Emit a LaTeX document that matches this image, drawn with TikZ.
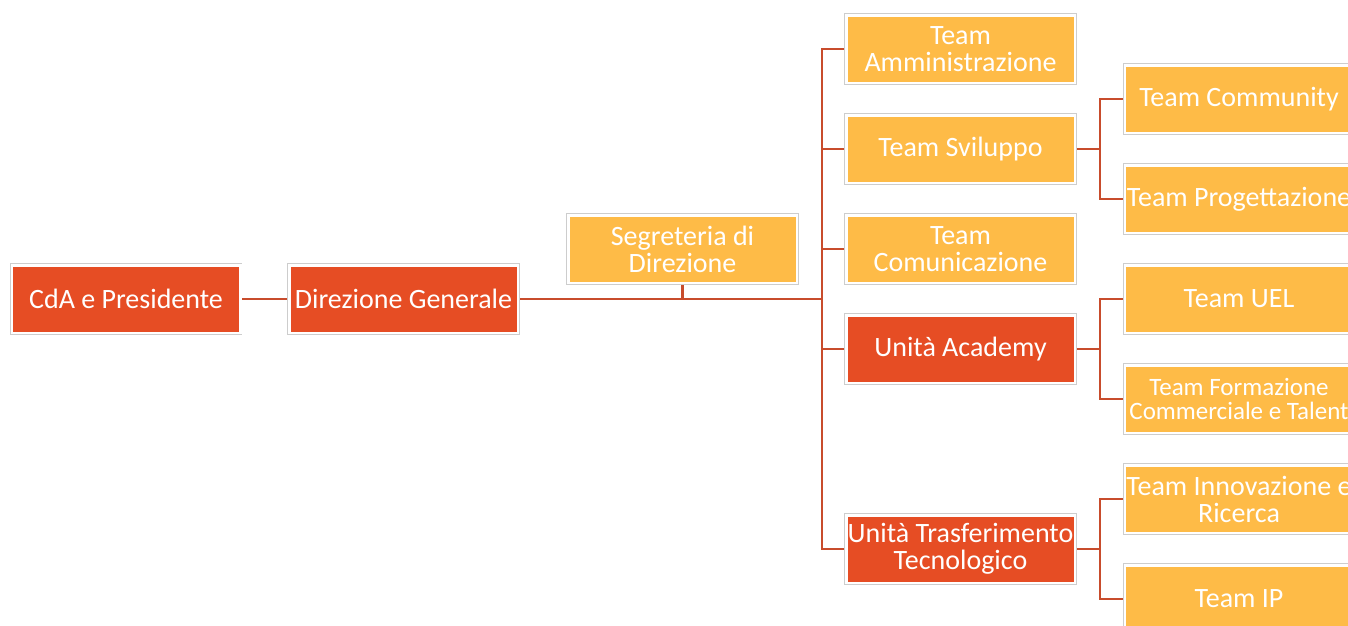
\documentclass[tikz,border=0pt]{standalone}
\usepackage{fontspec}
\setmainfont{Carlito}
\usetikzlibrary{backgrounds}
\definecolor{redbox}{RGB}{230,77,36}
\definecolor{yelbox}{RGB}{254,187,71}
\definecolor{conn}{RGB}{200,76,44}
\definecolor{frame}{RGB}{205,205,205}
\tikzset{
  box/.style={rectangle, minimum width=228.5pt, minimum height=67.5pt, inner sep=0pt,
    draw=white, line width=2.5pt, text=white, align=center,
    font=\fontsize{28}{27}\selectfont,
    preaction={draw=frame, line width=4pt}},
  redb/.style={box, fill=redbox},
  yelb/.style={box, fill=yelbox},
  link/.style={draw=conn, line width=2.4pt},
}
\begin{document}
\begin{tikzpicture}[x=1pt,y=-1pt]
\clip (0,0) rectangle (1348,625);
% level 0/1
\node[redb] (cda) at (126,299) {CdA e Presidente};
\node[redb] (dg) at (403.5,299) {Direzione Generale};
\node[yelb] (seg) at (682.5,249) {Segreteria di\\Direzione};
% column 1
\node[yelb] (amm) at (960.5,49) {Team\\Amministrazione};
\node[yelb] (svi) at (960.5,149) {Team Sviluppo};
\node[yelb] (com) at (960.5,249) {Team\\Comunicazione};
\node[redb] (aca) at (960.5,349) {Unità Academy};
\node[redb] (utt) at (960.5,549) {Unità Trasferimento\\Tecnologico};
% column 2
\node[yelb] (cmy) at (1239,99) {Team Community};
\node[yelb] (prg) at (1239,199) {Team Progettazione};
\node[yelb] (uel) at (1239,299) {Team UEL};
\node[yelb, font=\fontsize{25}{24.5}\selectfont] (frm) at (1239,399) {Team Formazione\\Commerciale e Talent};
\node[yelb] (inn) at (1239,499) {Team Innovazione e\\Ricerca};
\node[yelb] (ip) at (1239,599) {Team IP};
% connector coordinates
\coordinate (tr) at (822,299);
\coordinate (b1) at (1100,149);
\coordinate (b2) at (1100,349);
\coordinate (b3) at (1100,549);
\begin{scope}[on background layer]
\fill[white] (0,0) rectangle (1348,625);
\draw[link] (cda.east) -- (dg.west);
\draw[link] (dg.east) -- (tr);
\draw[link] (seg.south) -- (seg.south |- tr);
\draw[link] (amm.west) -| (tr |- utt.west) -- (utt.west);
\draw[link] (svi.west) -- (svi.west -| tr);
\draw[link] (com.west) -- (com.west -| tr);
\draw[link] (aca.west) -- (aca.west -| tr);
\draw[link] (svi.east) -- (b1);
\draw[link] (cmy.west) -| (b1 |- prg.west) -- (prg.west);
\draw[link] (aca.east) -- (b2);
\draw[link] (uel.west) -| (b2 |- frm.west) -- (frm.west);
\draw[link] (utt.east) -- (b3);
\draw[link] (inn.west) -| (b3 |- ip.west) -- (ip.west);
\end{scope}
\end{tikzpicture}
\end{document}
